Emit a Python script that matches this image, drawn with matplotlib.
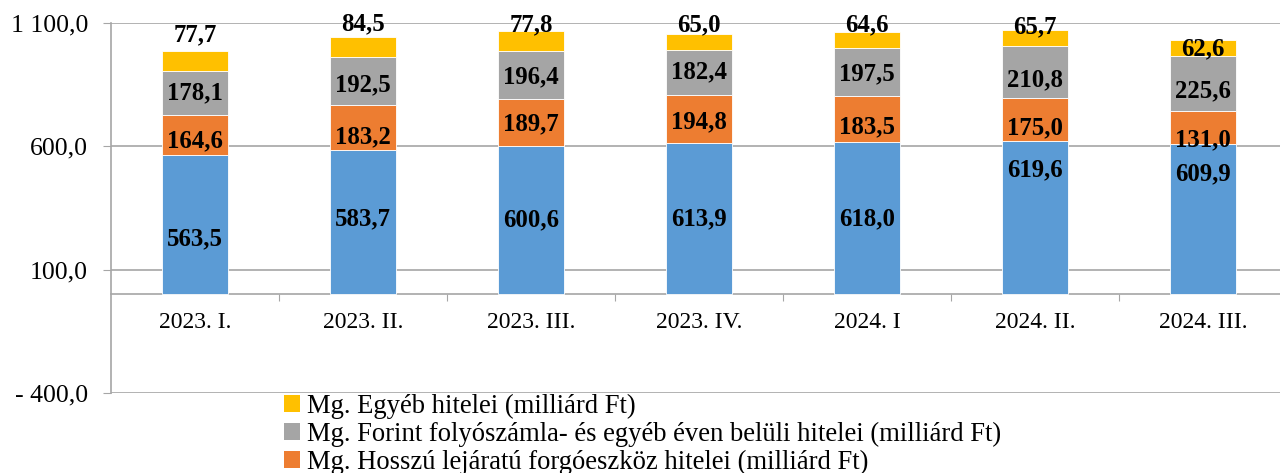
import matplotlib
matplotlib.use("Agg")
import matplotlib.pyplot as plt
from matplotlib.patches import Patch
from matplotlib.ticker import FuncFormatter, FixedLocator

plt.rcParams['font.family'] = ['Liberation Serif', 'DejaVu Serif']

# adatok (milliárd Ft)
categories = ["2023. I.", "2023. II.", "2023. III.", "2023. IV.", "2024. I", "2024. II.", "2024. III."]
beruhazasi = [563.5, 583.7, 600.6, 613.9, 618.0, 619.6, 609.9]
hosszu = [164.6, 183.2, 189.7, 194.8, 183.5, 175.0, 131.0]
forint = [178.1, 192.5, 196.4, 182.4, 197.5, 210.8, 225.6]
egyeb = [77.7, 84.5, 77.8, 65.0, 64.6, 65.7, 62.6]

series = [beruhazasi, hosszu, forint, egyeb]
names = ["Mg. Beruházási hitelei (milliárd Ft)",
         "Mg. Hosszú lejáratú forgóeszköz hitelei (milliárd Ft)",
         "Mg. Forint folyószámla- és egyéb éven belüli hitelei (milliárd Ft)",
         "Mg. Egyéb hitelei (milliárd Ft)"]
colors = ["#5b9bd5", "#ed7d31", "#a5a5a5", "#ffc000"]

# kézi címke-eltolások pixelben (mint az eredeti diagramon)
nudge = [[-12, 5, 2, 1.5, 1, 50, 47],
         [-3.5, -7, 1, -1.5, -6, -6.5, -10],
         [2, -2, 0, 2, 0, -6, -5],
         [28.5, 25.5, 18.5, 18.5, 17, 13, 1.5]]

fig = plt.figure(figsize=(12.8, 4.73), dpi=100)
ax = fig.add_axes([111 / 1280, 80 / 473, 1176 / 1280, 370.3 / 473])

x = range(len(categories))
bottom = [0.0] * len(categories)
for s, (vals, col) in enumerate(zip(series, colors)):
    bars = ax.bar(x, vals, width=0.39, bottom=bottom, color=col,
                  edgecolor="white", linewidth=0.6, zorder=3)
    for i, b in enumerate(bars):
        cy = bottom[i] + vals[i] / 2
        ax.annotate(f"{vals[i]:.1f}".replace(".", ","), (b.get_x() + b.get_width() / 2, cy),
                    xytext=(0, nudge[s][i] - 2), textcoords="offset pixels",
                    ha="center", va="center", fontsize=17.8, fontweight="bold",
                    annotation_clip=False, zorder=5)
    bottom = [bt + v for bt, v in zip(bottom, vals)]

ax.set_ylim(-400, 1100)
ax.set_xlim(-0.5, len(categories) - 0.5)
ax.yaxis.set_major_locator(FixedLocator([-400, 100, 600, 1100]))


def fmt(v, pos):
    s = f"{abs(v):,.1f}".replace(",", " ").replace(".", ",")
    return "- " + s if v < 0 else s


ax.yaxis.set_major_formatter(FuncFormatter(fmt))
ax.tick_params(axis="y", labelsize=18.5, length=6, color="#a6a6a6", pad=10.5)
ax.grid(axis="y", color="#a6a6a6", linewidth=1.2, zorder=0)

# x tengely a nullánál
ax.spines["bottom"].set_position(("data", 0))
ax.spines["bottom"].set_color("#a6a6a6")
ax.spines["bottom"].set_linewidth(1.2)
ax.spines["left"].set_color("#a6a6a6")
ax.spines["left"].set_linewidth(1.2)
ax.spines["top"].set_visible(False)
ax.spines["right"].set_visible(False)
ax.set_xticks([i + 0.5 for i in range(len(categories) - 1)])
ax.set_xticklabels([])
ax.tick_params(axis="x", which="major", length=5, color="#a6a6a6", direction="out")
ax.set_xticks(list(x), minor=True)
ax.set_xticklabels(categories, minor=True, fontsize=17)
ax.tick_params(axis="x", which="minor", length=0, pad=13)

# a legenda alsó (kék) sora az eredeti képen kilóg a képből, ezért csak három sor látszik
handles = [Patch(facecolor=c, label=n) for c, n in zip(colors, names)][::-1][:3]
fig.legend(handles=handles, loc="upper left", bbox_to_anchor=(284 / 1280, 1 - 394 / 473),
           frameon=False, fontsize=19.2, handlelength=0.6, handleheight=0.6,
           handletextpad=0.25, labelspacing=0.1, borderpad=0, borderaxespad=0)

fig.savefig("out.png", dpi=100)
